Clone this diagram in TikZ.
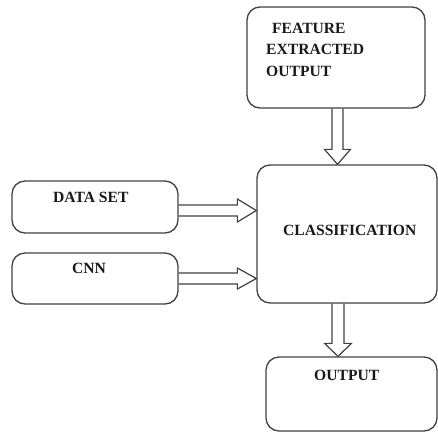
\documentclass[tikz,border=0pt]{standalone}
\usepackage{fontspec}
\setmainfont{Liberation Serif}
\usetikzlibrary{calc}
\begin{document}
\begin{tikzpicture}[x=1pt,y=-1pt,
  box/.style={draw=black!75, line width=1.3pt, rounded corners=13pt, inner sep=0pt},
  lbl/.style={anchor=base west, inner sep=0pt, font=\fontsize{15.6}{18}\selectfont\bfseries, text=black!90},
  harrow/.style={draw=black!75, line width=1.2pt, line join=miter}]
\useasboundingbox (0,0) rectangle (438,431);
% boxes
\node[box, minimum width=178pt, minimum height=101pt] (feat) at (336,57.5) {};
\node[box, minimum width=180pt, minimum height=138pt] (cls) at (347,234) {};
\node[box, minimum width=171pt, minimum height=74pt] (out) at (351.5,394) {};
\node[box, minimum width=166pt, minimum height=52pt] (ds) at (95,207) {};
\node[box, minimum width=166pt, minimum height=51pt] (cnn) at (95,278.5) {};
% labels
\node[lbl] (t1) at (272,33.5) {FEATURE};
\node[lbl] (t2) at (266,54.5) {EXTRACTED};
\node[lbl] (t3) at (266,76.5) {OUTPUT};
\node[lbl] (t4) at (53,202.5) {DATA SET};
\node[lbl] (t5) at (72,273.5) {CNN};
\node[lbl] (t6) at (283,235.5) {CLASSIFICATION};
\node[lbl] (t7) at (314,380.5) {OUTPUT};
% hollow arrows
\coordinate (fx) at (337.5,0);
\draw[harrow] ($(fx|-feat.south)+(-5.5,0)$) -- ($(fx|-cls.north)+(-5.5,-15)$) -- ($(fx|-cls.north)+(-13,-15)$) -- (fx|-cls.north) -- ($(fx|-cls.north)+(13,-15)$) -- ($(fx|-cls.north)+(5.5,-15)$) -- ($(fx|-feat.south)+(5.5,0)$);
\coordinate (ox) at (338,0);
\draw[harrow] ($(ox|-cls.south)+(-6,0)$) -- ($(ox|-out.north)+(-6,-13)$) -- ($(ox|-out.north)+(-13.5,-13)$) -- (ox|-out.north) -- ($(ox|-out.north)+(13.5,-13)$) -- ($(ox|-out.north)+(6,-13)$) -- ($(ox|-cls.south)+(6,0)$);
\coordinate (dy) at (0,210.5);
\draw[harrow] ($(ds.east|-dy)+(0,-5.5)$) -- ($(cls.west|-dy)+(-19,-5.5)$) -- ($(cls.west|-dy)+(-19,-11.5)$) -- (cls.west|-dy) -- ($(cls.west|-dy)+(-19,11.5)$) -- ($(cls.west|-dy)+(-19,5.5)$) -- ($(ds.east|-dy)+(0,5.5)$);
\coordinate (cy) at (0,278.5);
\draw[harrow] ($(cnn.east|-cy)+(0,-5.5)$) -- ($(cls.west|-cy)+(-19,-5.5)$) -- ($(cls.west|-cy)+(-19,-10.5)$) -- (cls.west|-cy) -- ($(cls.west|-cy)+(-19,10.5)$) -- ($(cls.west|-cy)+(-19,5.5)$) -- ($(cnn.east|-cy)+(0,5.5)$);
\end{tikzpicture}
\end{document}
